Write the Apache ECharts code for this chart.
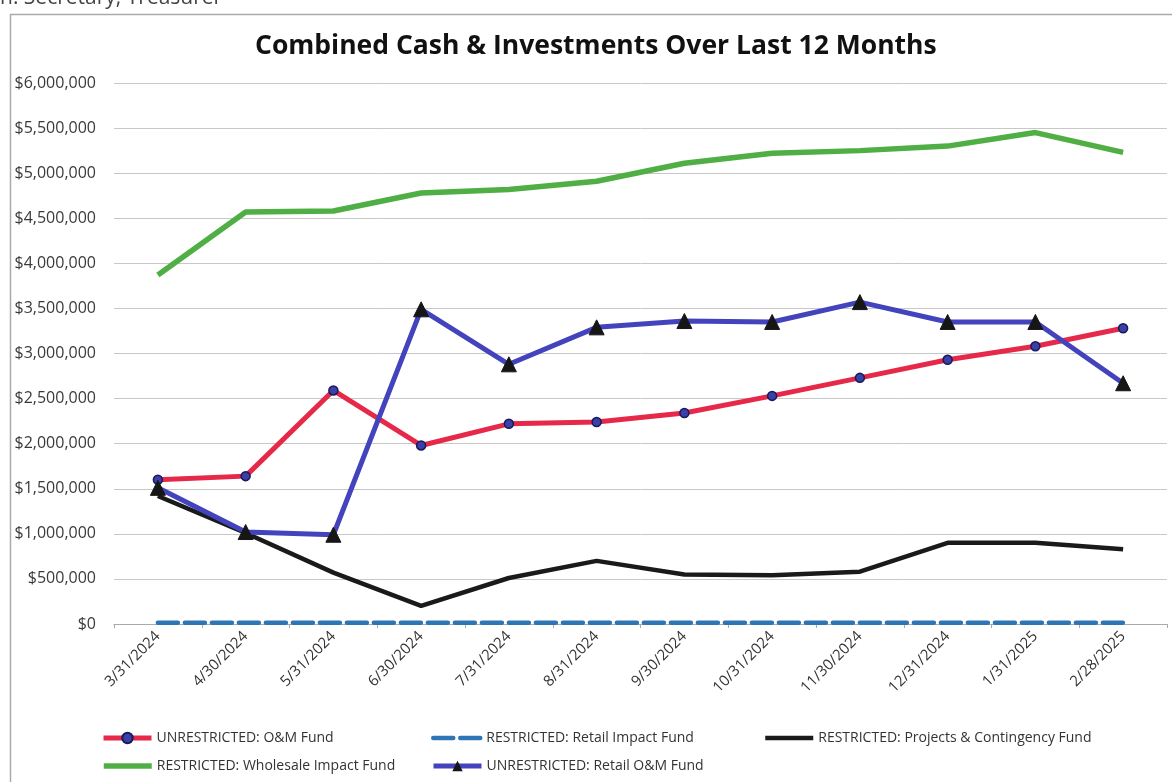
<!DOCTYPE html>
<html><head><meta charset="utf-8">
<script src="https://cdn.jsdelivr.net/npm/echarts@6/dist/echarts.min.js"></script>
<style>html,body{margin:0;padding:0;background:#fff}#c{width:1172px;height:782px}</style>
</head><body><div id="c"></div>
<script>
const categories = ['3/31/2024','4/30/2024','5/31/2024','6/30/2024','7/31/2024','8/31/2024','9/30/2024','10/31/2024','11/30/2024','12/31/2024','1/31/2025','2/28/2025'];
const omFund = [1600000,1640000,2590000,1980000,2220000,2240000,2340000,2530000,2730000,2930000,3080000,3280000];
const retailImpact = [15000,15000,15000,15000,15000,15000,15000,15000,15000,15000,15000,15000];
const projectsFund = [1420000,1010000,570000,200000,510000,700000,550000,540000,580000,900000,900000,830000];
const wholesaleImpact = [3870000,4570000,4580000,4780000,4820000,4910000,5110000,5220000,5250000,5300000,5450000,5230000];
const retailOM = [1510000,1020000,990000,3490000,2880000,3290000,3360000,3350000,3570000,3350000,3350000,2670000];
const yTicks = [0,500000,1000000,1500000,2000000,2500000,3000000,3500000,4000000,4500000,5000000,5500000,6000000];

const names = ['UNRESTRICTED: O&M Fund','RESTRICTED: Retail Impact Fund','RESTRICTED: Projects & Contingency Fund','RESTRICTED: Wholesale Impact Fund','UNRESTRICTED: Retail O&M Fund'];
const FONT = 'Open Sans, Liberation Sans, sans-serif';
function fmt(v){return '$' + v.toLocaleString('en-US');}
const legendText = {fontFamily: FONT, fontSize: 14, color: '#333'};
function lg(name, left, top, hideSymbol){
  const d = hideSymbol ? {name:name, itemStyle:{opacity:0}} : {name:name};
  return {data:[d], left:left, top:top, itemWidth:48, itemHeight:13, itemGap:0, padding:0,
    textStyle:legendText, selectedMode:false, lineStyle:{width:'inherit'}};
}
const chart = echarts.init(document.getElementById('c'));
chart.setOption({
  animation:false,
  backgroundColor:'#fff',
  graphic:[
    {type:'rect', left:8, top:12, shape:{width:1200, height:800}, style:{fill:'none', stroke:'#aaa', lineWidth:1.5}, silent:true},
    {type:'text', left:0, top:-12, style:{text:'n. Secretary, Treasurer', font:'21px Open Sans', fill:'#444'}}
  ],
  title:{text:'Combined Cash & Investments Over Last 12 Months', left:250, top:28, textStyle:{fontFamily:FONT, fontSize:26.5, fontWeight:'bold', color:'#111'}},
  grid:{left:114, right:5, top:83, bottom:158, containLabel:false},
  legend:[
    lg(names[0],101,731,false), lg(names[1],431,731,true), lg(names[2],763,731,true),
    lg(names[3],101,759,true), lg(names[4],431,759,false)
  ],
  xAxis:{type:'category', data:categories, boundaryGap:true,
    axisLine:{lineStyle:{color:'#aaa', width:1}},
    axisTick:{show:true, length:4, lineStyle:{color:'#aaa'}},
    axisLabel:{rotate:45, fontFamily:FONT, fontSize:15, color:'#333', margin:10}},
  yAxis:{type:'value', min:0, max:6000000, interval:500000,
    axisLine:{show:false}, axisTick:{show:false},
    splitLine:{lineStyle:{color:'#c8c8c8', width:1}},
    axisLabel:{formatter:fmt, fontFamily:FONT, fontSize:16, color:'#3a3a3a', margin:18}},
  series:[
    {name:names[0], type:'line', data:omFund, symbol:'circle', symbolSize:9,
      lineStyle:{color:'#E62849', width:5}, itemStyle:{color:'#3B3FA8', borderColor:'#1a1a5a', borderWidth:1.5}, z:3},
    {name:names[1], type:'line', data:retailImpact, symbol:'none',
      lineStyle:{color:'#2E75B6', width:4.5, type:[20,7], cap:'round'}, itemStyle:{color:'#2E75B6'}, z:2},
    {name:names[2], type:'line', data:projectsFund, symbol:'none',
      lineStyle:{color:'#1a1a1a', width:4.5}, itemStyle:{color:'#1a1a1a'}, z:2},
    {name:names[3], type:'line', data:wholesaleImpact, symbol:'none',
      lineStyle:{color:'#4FAE44', width:5.5}, itemStyle:{color:'#4FAE44'}, z:2},
    {name:names[4], type:'line', data:retailOM, symbol:'triangle', symbolSize:15,
      lineStyle:{color:'#4343BD', width:5}, itemStyle:{color:'#161616', borderColor:'#161616'}, z:4}
  ]
});
</script></body></html>
